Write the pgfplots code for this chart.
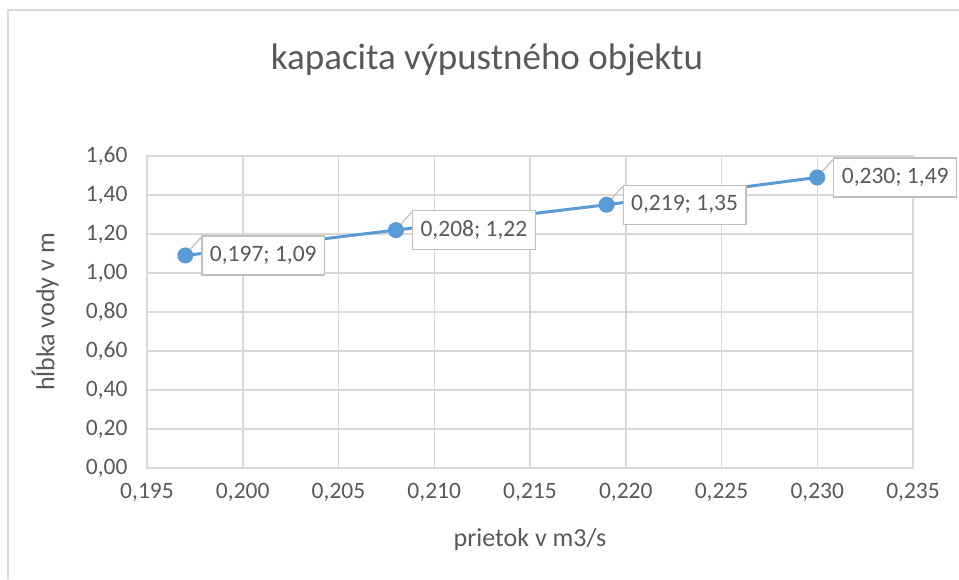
\documentclass[border=0pt]{standalone}
\usepackage{pgfplots}
\pgfplotsset{compat=1.18}
\usepackage{fontspec}
\setmainfont{Carlito}
\definecolor{txt}{HTML}{595959}
\definecolor{grd}{HTML}{D9D9D9}
\definecolor{ser}{HTML}{5B9BD5}
\definecolor{lbl}{HTML}{BFBFBF}
\tikzset{dlab/.style={anchor=west, xshift=16pt, draw=lbl, line width=1.2pt, fill=white,
    text=txt, font=\fontsize{23.5}{26}\selectfont, inner xsep=8pt, minimum height=39pt}}
\begin{document}
\begin{tikzpicture}
\useasboundingbox (0pt,0pt) rectangle (959pt,579pt);
\draw[grd, line width=2.5pt] (8pt,0pt) -- (8pt,569pt) -- (959pt,569pt);
\node[text=txt, font=\fontsize{37}{40}\selectfont, anchor=center] at (487pt,519pt) {kapacita výpustného objektu};
\begin{axis}[
  at={(147pt,111pt)}, anchor=south west,
  scale only axis, width=766pt, height=312pt,
  xmin=0.195, xmax=0.235, ymin=0, ymax=1.6,
  xtick={0.195,0.2,0.205,0.21,0.215,0.22,0.225,0.23,0.235},
  ytick={0,0.2,0.4,0.6,0.8,1.0,1.2,1.4,1.6},
  grid=major, major grid style={grd, line width=1.5pt},
  axis line style={grd, line width=1.5pt},
  tick style={draw=none},
  tick label style={text=txt, font=\fontsize{23.5}{26}\selectfont},
  xticklabel style={yshift=-12pt},
  yticklabel style={xshift=-16pt},
  xticklabels={{0,195},{0,200},{0,205},{0,210},{0,215},{0,220},{0,225},{0,230},{0,235}},
  yticklabels={{0,00},{0,20},{0,40},{0,60},{0,80},{1,00},{1,20},{1,40},{1,60}},
  xlabel={prietok v m3/s}, ylabel={hĺbka vody v m},
  label style={text=txt, font=\fontsize{26}{28}\selectfont},
  xlabel style={at={(axis description cs:0.5,0)}, anchor=center, yshift=-72pt},
  ylabel style={at={(axis description cs:0,0.5)}, anchor=center, yshift=102pt},
  clip=false,
]
\addplot[color=ser, line width=3pt, mark=*, mark size=6.5pt, mark options={fill=ser, draw=ser}]
coordinates {(0.197,1.09) (0.208,1.22) (0.219,1.35) (0.230,1.49)};
\node[dlab] (l1) at (axis cs:0.197,1.09) {0,197; 1,09};
\node[dlab] (l2) at (axis cs:0.208,1.22) {0,208; 1,22};
\node[dlab] (l3) at (axis cs:0.219,1.35) {0,219; 1,35};
\node[dlab] (l4) at (axis cs:0.230,1.49) {0,230; 1,49};
\draw[lbl, line width=1.2pt] ([yshift=-2pt]l1.north west) -- ([xshift=-11pt,yshift=-14pt]l1.north west);
\draw[lbl, line width=1.2pt] ([yshift=-2pt]l2.north west) -- ([xshift=-11pt,yshift=-14pt]l2.north west);
\draw[lbl, line width=1.2pt] ([yshift=-2pt]l3.north west) -- ([xshift=-11pt,yshift=-14pt]l3.north west);
\draw[lbl, line width=1.2pt] ([yshift=-2pt]l4.north west) -- ([xshift=-11pt,yshift=-14pt]l4.north west);
\end{axis}
\end{tikzpicture}
\end{document}
